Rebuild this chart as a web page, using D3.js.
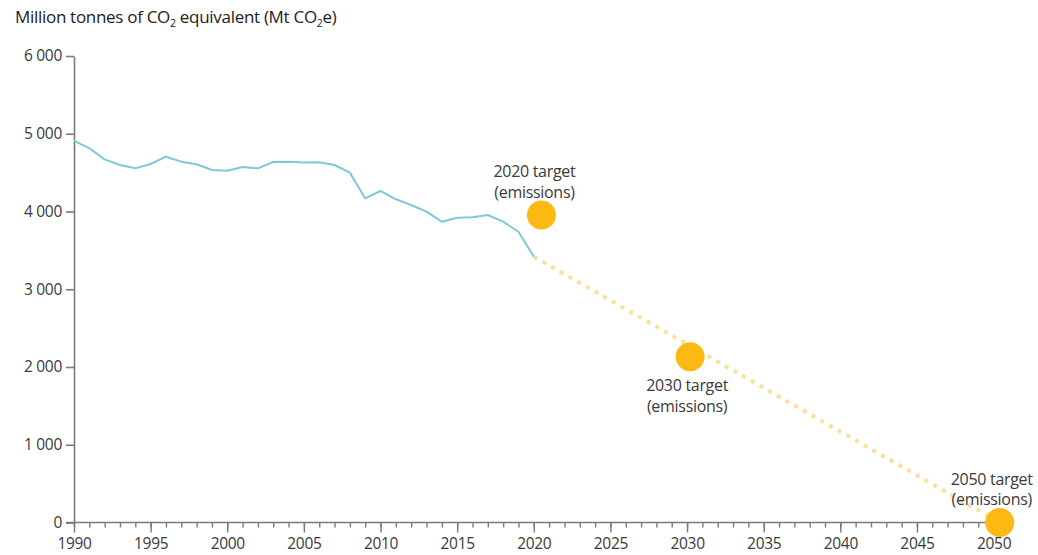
<!DOCTYPE html>
<html>
<head>
<meta charset="utf-8">
<script src="https://cdn.jsdelivr.net/npm/d3@7"></script>
<style>
  html, body { margin: 0; padding: 0; background: #fff; }
  svg { display: block; font-family: "Open Sans", sans-serif; }
</style>
</head>
<body>
<svg id="chart" width="1038" height="555"></svg>
<script>
// ---- data ----
const years = [1990,1991,1992,1993,1994,1995,1996,1997,1998,1999,2000,2001,2002,2003,2004,2005,2006,2007,2008,2009,2010,2011,2012,2013,2014,2015,2016,2017,2018,2019,2020];
const emissions = [4911,4813,4671,4598,4555,4611,4705,4641,4607,4534,4525,4572,4555,4637,4641,4630,4633,4598,4499,4170,4264,4157,4084,3998,3869,3920,3925,3955,3869,3740,3419];
const pathYears = [2020, 2050.4];
const pathValues = [3419, 0];
const targetYears = [2020.5, 2030.2, 2050.4];
const targetValues = [3955, 2132, 0];
const targetLabels = ["2020 target", "2030 target", "2050 target"];
const targetSub = ["(emissions)", "(emissions)", "(emissions)"];
const yTicks = [0, 1000, 2000, 3000, 4000, 5000, 6000];
const xMajorTicks = [1990,1995,2000,2005,2010,2015,2020,2025,2030,2035,2040,2045,2050];

// ---- layout ----
const svg = d3.select("#chart");
const x = d3.scaleLinear().domain([1990, 2050]).range([74, 993.6]);
const y = d3.scaleLinear().domain([0, 6000]).range([522.5, 56]);
const axisColor = "#7a7a7a";
const textColor = "#3a3a3a";
const fmtY = v => d3.format(",")(v).replace(/,/g, "\u00a0");

// y axis title
const title = svg.append("text").attr("x", 15).attr("y", 23)
  .attr("font-size", 17).attr("fill", "#222").attr("letter-spacing", -0.3);
title.append("tspan").text("Million tonnes of CO");
title.append("tspan").attr("font-size", 10.5).attr("dy", 4).text("2");
title.append("tspan").attr("dy", -4).text(" equivalent (Mt CO");
title.append("tspan").attr("font-size", 10.5).attr("dy", 4).text("2");
title.append("tspan").attr("dy", -4).text("e)");

// y axis
const gy = svg.append("g").attr("transform", "translate(74,0)")
  .call(d3.axisLeft(y).tickValues(yTicks).tickFormat(fmtY).tickSize(8).tickSizeOuter(0).tickPadding(4));
gy.select(".domain").attr("stroke", axisColor).attr("stroke-width", 1.6);
gy.selectAll(".tick line").attr("stroke", axisColor).attr("stroke-width", 1.6);
gy.selectAll(".tick text").attr("font-size", 15.5).attr("fill", textColor)
  .attr("font-family", "Open Sans, sans-serif").attr("letter-spacing", -0.3);

// x axis: minor ticks
const gxMinor = svg.append("g").attr("transform", "translate(0,522.5)")
  .call(d3.axisBottom(x).tickValues(d3.range(1990, 2051)).tickFormat("").tickSize(5).tickSizeOuter(0));
gxMinor.select(".domain").remove();
gxMinor.selectAll(".tick line").attr("stroke", axisColor).attr("stroke-width", 1.4);

const gx = svg.append("g").attr("transform", "translate(0,522.5)")
  .call(d3.axisBottom(x).tickValues(xMajorTicks).tickFormat(d3.format("d")).tickSize(10).tickSizeOuter(0).tickPadding(5));
gx.select(".domain").attr("stroke", axisColor).attr("stroke-width", 1.6)
  .attr("d", `M66,0H${x(2050.4)}`);
gx.selectAll(".tick line").attr("stroke", axisColor).attr("stroke-width", 1.4);
gx.selectAll(".tick text").attr("font-size", 15.5).attr("fill", textColor)
  .attr("font-family", "Open Sans, sans-serif").attr("letter-spacing", -0.3);

// projection dotted line
svg.append("path")
  .datum(pathYears.map((d, i) => [d, pathValues[i]]))
  .attr("fill", "none").attr("stroke", "#fbe09a").attr("stroke-width", 4)
  .attr("stroke-dasharray", "4 6")
  .attr("d", d3.line().x(d => x(d[0])).y(d => y(d[1])));

// history line
svg.append("path")
  .datum(years.map((d, i) => [d, emissions[i]]))
  .attr("fill", "none").attr("stroke", "#7ccad8").attr("stroke-width", 2)
  .attr("stroke-linejoin", "round")
  .attr("d", d3.line().x(d => x(d[0])).y(d => y(d[1])));

// target dots
svg.append("g").selectAll("circle")
  .data(targetYears.map((d, i) => [d, targetValues[i]]))
  .join("circle")
  .attr("cx", d => x(d[0])).attr("cy", d => y(d[1])).attr("r", 14.5)
  .attr("fill", "#fdb913");

// target labels
const labelOffsets = [[-7, -38, -17], [-3, 34, 55], [-8, -38, -18]];
targetYears.forEach((yr, i) => {
  const cx = x(yr), cy = y(targetValues[i]);
  const o = labelOffsets[i];
  svg.append("text").attr("x", cx + o[0]).attr("y", cy + o[1])
    .attr("text-anchor", "middle").attr("font-size", 16).attr("fill", textColor)
    .attr("letter-spacing", -0.3).text(targetLabels[i]);
  svg.append("text").attr("x", cx + o[0]).attr("y", cy + o[2])
    .attr("text-anchor", "middle").attr("font-size", 16).attr("fill", textColor)
    .attr("letter-spacing", -0.3).text(targetSub[i]);
});
</script>
</body>
</html>
